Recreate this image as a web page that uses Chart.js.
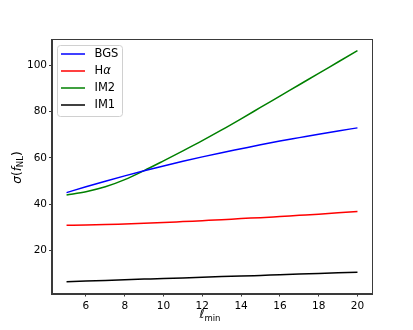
<!DOCTYPE html>
<html>
<head>
<meta charset="utf-8">
<script src="https://cdn.jsdelivr.net/npm/chart.js@4.4.1/dist/chart.umd.min.js"></script>
<style>
  html, body { margin: 0; padding: 0; background: #fff; }
  #wrap { width: 413px; height: 330px; }
</style>
</head>
<body>
<div id="wrap"><canvas id="myChart" width="413" height="330"></canvas></div>
<script>
// l_min values
var lmin = [5, 6, 7, 8, 9, 10, 11, 12, 13, 14, 15, 16, 17, 18, 19, 20];
var bgs = [45.0, 47.5, 49.9, 52.2, 54.4, 56.5, 58.5, 60.4, 62.2, 63.9, 65.6, 67.2, 68.7, 70.2, 71.6, 72.9];
var halpha = [30.9, 31.0, 31.2, 31.5, 31.8, 32.1, 32.5, 32.9, 33.3, 33.8, 34.2, 34.7, 35.2, 35.7, 36.3, 36.9];
var im2 = [44.0, 45.4, 47.5, 50.6, 54.5, 58.7, 63.0, 67.4, 72.0, 76.8, 81.7, 86.6, 91.5, 96.4, 101.3, 106.2];
var im1 = [6.6, 6.9, 7.1, 7.4, 7.7, 8.0, 8.2, 8.5, 8.8, 9.0, 9.3, 9.6, 9.9, 10.1, 10.4, 10.7];
var xTicks = [6, 8, 10, 12, 14, 16, 18, 20];
var yTicks = [20, 40, 60, 80, 100];

var FONT = "DejaVu Sans";
var SPINE = "#3a3a3a";

function pts(ys) {
  return lmin.map(function (x, i) { return { x: x, y: ys[i] }; });
}

function line(label, ys, color) {
  return {
    label: label,
    data: pts(ys),
    borderColor: color,
    backgroundColor: color,
    borderWidth: 1.5,
    pointRadius: 0,
    cubicInterpolationMode: "monotone",
    fill: false
  };
}

// draws a run of text pieces (different fonts / offsets) centred on cx,cy
function drawRich(ctx, parts, cx, cy) {
  var total = 0;
  parts.forEach(function (p) { ctx.font = p.font; p.w = ctx.measureText(p.t).width; total += p.w; });
  var x = cx - total / 2;
  ctx.textBaseline = "middle";
  ctx.textAlign = "left";
  parts.forEach(function (p) {
    ctx.font = p.font;
    ctx.fillText(p.t, x, cy + (p.dy || 0));
    x += p.w;
  });
}

var extras = {
  id: "extras",
  afterDraw: function (chart) {
    var ctx = chart.ctx;
    var a = chart.chartArea;
    ctx.save();

    // full box around the axes
    ctx.strokeStyle = SPINE;
    ctx.lineWidth = 1;
    ctx.strokeRect(Math.round(a.left) - 0.5, Math.round(a.top) - 0.5,
      Math.round(a.right) - Math.round(a.left) + 1, Math.round(a.bottom) - Math.round(a.top) + 1);

    ctx.fillStyle = "#000";

    // x title
    drawRich(ctx, [
      { t: "\u2113", font: "italic 12px " + FONT },
      { t: "min", font: "8.5px " + FONT, dy: 3.5 }
    ], (a.left + a.right) / 2 - 2, 315);

    // y title
    ctx.save();
    ctx.translate(18, (a.top + a.bottom) / 2 + 1);
    ctx.rotate(-Math.PI / 2);
    drawRich(ctx, [
      { t: "\u03c3", font: "italic 12px " + FONT },
      { t: "(", font: "12px " + FONT },
      { t: "f", font: "italic 12px " + FONT },
      { t: "NL", font: "8.5px " + FONT, dy: 3 },
      { t: ")", font: "12px " + FONT }
    ], 0, 0);
    ctx.restore();

    // legend
    var bx = 57.5, by = 45.5, bw = 65, bh = 71;
    ctx.beginPath();
    ctx.roundRect(bx, by, bw, bh, 3);
    ctx.fillStyle = "rgba(255,255,255,0.8)";
    ctx.fill();
    ctx.strokeStyle = "#d0d0d0";
    ctx.lineWidth = 1;
    ctx.stroke();

    chart.data.datasets.forEach(function (ds, i) {
      var y = 54 + i * 17;
      ctx.beginPath();
      ctx.moveTo(61, y);
      ctx.lineTo(85, y);
      ctx.strokeStyle = ds.borderColor;
      ctx.lineWidth = 1.5;
      ctx.stroke();
      ctx.fillStyle = "#000";
      ctx.textBaseline = "middle";
      ctx.textAlign = "left";
      if (ds.label === "H\u03b1") {
        ctx.font = "11.5px " + FONT;
        ctx.fillText("H", 94.5, y);
        var w = ctx.measureText("H").width;
        ctx.font = "italic 11.5px " + FONT;
        ctx.fillText("\u03b1", 94.5 + w, y);
      } else {
        ctx.font = "11.5px " + FONT;
        ctx.fillText(ds.label, 94.5, y);
      }
    });
    ctx.restore();
  }
};

new Chart("myChart", {
  type: "line",
  data: {
    datasets: [
      line("BGS", bgs, "#0000ff"),
      line("H\u03b1", halpha, "#ff0000"),
      line("IM2", im2, "#008000"),
      line("IM1", im1, "#000000")
    ]
  },
  options: {
    responsive: false,
    animation: false,
    layout: { padding: { left: 0, top: 39.5, right: 41, bottom: 0 } },
    plugins: {
      legend: { display: false },
      tooltip: { enabled: false }
    },
    scales: {
      x: {
        type: "linear",
        min: 4.25,
        max: 20.75,
        afterBuildTicks: function (s) { s.ticks = xTicks.map(function (v) { return { value: v }; }); },
        afterFit: function (s) { s.height = 36.5; },
        ticks: { color: "#000", font: { family: FONT, size: 10.5 }, padding: 3, maxRotation: 0 },
        grid: { drawOnChartArea: false, tickLength: 3, tickColor: SPINE, tickWidth: 1 },
        border: { color: SPINE, width: 1 }
      },
      y: {
        min: 1.5,
        max: 111,
        afterBuildTicks: function (s) { s.ticks = yTicks.map(function (v) { return { value: v }; }); },
        afterFit: function (s) { s.width = 52; },
        ticks: { color: "#000", font: { family: FONT, size: 10.5 }, padding: 2 },
        grid: { drawOnChartArea: false, tickLength: 3, tickColor: SPINE, tickWidth: 1 },
        border: { color: SPINE, width: 1 }
      }
    }
  },
  plugins: [extras]
});
</script>
</body>
</html>
